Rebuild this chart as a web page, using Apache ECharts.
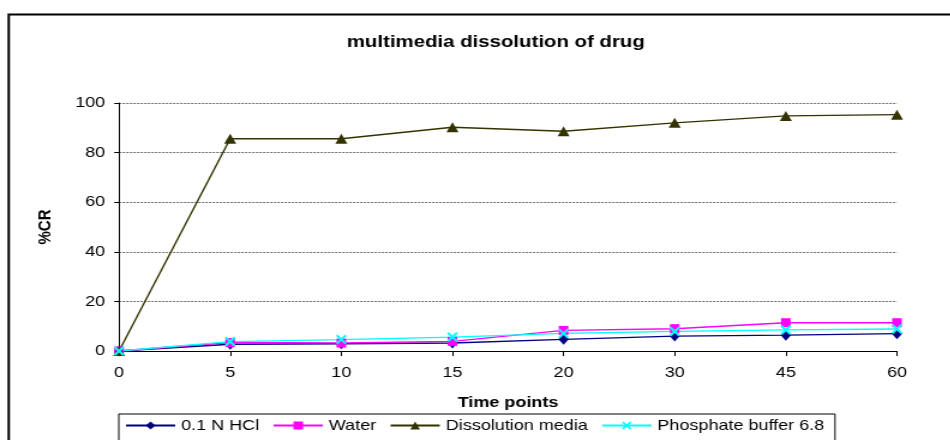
<!DOCTYPE html>
<html>
<head>
<meta charset="utf-8">
<script src="https://cdn.jsdelivr.net/npm/echarts@6/dist/echarts.min.js"></script>
<style>
html,body{margin:0;padding:0;background:#fff;overflow:hidden;}
#wrap{width:950px;height:440px;overflow:hidden;position:relative;}
#chart{width:792px;height:440px;transform:scaleX(1.2);transform-origin:0 0;}
</style>
</head>
<body>
<div id="wrap"><div id="chart"></div></div>
<script>
const categories = ['0', '5', '10', '15', '20', '30', '45', '60'];
const hcl = [0, 2.7, 2.9, 3.2, 4.7, 6.0, 6.4, 7.0];
const water = [0, 3.4, 3.2, 3.9, 8.3, 9.0, 11.4, 11.4];
const dissolution = [0, 85.6, 85.6, 90.2, 88.6, 92.0, 94.8, 95.3];
const phosphate = [0, 3.8, 4.6, 5.6, 7.1, 7.9, 8.5, 8.9];
const yTicks = [0, 20, 40, 60, 80, 100];

const FONT = 'Liberation Sans, Arial, sans-serif';
const xPath = 'path://M0,1.5L1.5,0L5,3.5L8.5,0L10,1.5L6.5,5L10,8.5L8.5,10L5,6.5L1.5,10L0,8.5L3.5,5Z';

const chart = echarts.init(document.getElementById('chart'), null, {renderer: 'canvas'});

function mk(name, data, color, symbol, size) {
  return {
    name: name, type: 'line', data: data,
    symbol: symbol, symbolSize: size, showSymbol: true,
    lineStyle: {color: color, width: 1.4},
    itemStyle: {color: color},
    animation: false, z: 3
  };
}

chart.setOption({
  backgroundColor: '#fff',
  animation: false,
  title: {
    text: 'multimedia dissolution of drug',
    left: 284, top: 29,
    textStyle: {fontFamily: FONT, fontSize: 17, fontWeight: 'bold', color: '#000'}
  },
  graphic: [
    {type: 'rect', shape: {x: 7.3, y: 14.5, width: 900, height: 460},
     style: {fill: 'none', stroke: '#000', lineWidth: 2}, z: 100}
  ],
  legend: {
    left: 99, top: 414,
    padding: [4, 9, 20, 5],
    borderColor: '#000', borderWidth: 1,
    itemGap: 11, itemWidth: 41, itemHeight: 10,
    textStyle: {fontFamily: FONT, fontSize: 15, color: '#000'},
    data: ['0.1 N HCl', 'Water', 'Dissolution media', 'Phosphate buffer 6.8']
  },
  grid: {left: 99.2, right: 44.5, top: 103, bottom: 89},
  xAxis: {
    type: 'category', data: categories, boundaryGap: false,
    name: 'Time points', nameLocation: 'middle', nameGap: 44,
    nameTextStyle: {fontFamily: FONT, fontSize: 15, fontWeight: 'bold', color: '#000'},
    axisLine: {lineStyle: {color: '#000', width: 1}},
    axisTick: {show: true, alignWithLabel: true, length: 5, lineStyle: {color: '#000'}},
    axisLabel: {fontFamily: FONT, fontSize: 15, color: '#000', margin: 14},
    splitLine: {show: false}
  },
  yAxis: {
    type: 'value', min: 0, max: 100, interval: 20,
    name: '%CR', nameLocation: 'middle', nameGap: 54, nameRotate: 90,
    nameTextStyle: {fontFamily: FONT, fontSize: 15, fontWeight: 'bold', color: '#000'},
    axisLine: {show: true, lineStyle: {color: '#000', width: 1}},
    axisTick: {show: true, inside: false, length: 4, lineStyle: {color: '#000'}},
    axisLabel: {fontFamily: FONT, fontSize: 15, color: '#000', margin: 11.5,
      formatter: function (v) { return yTicks.indexOf(v) >= 0 ? String(v) : ''; }},
    splitLine: {show: true, lineStyle: {color: '#707070', type: [2, 1], width: 1}}
  },
  series: [
    mk('0.1 N HCl', hcl, '#000080', 'diamond', [8.5, 11]),
    mk('Water', water, '#FF00FF', 'rect', [8, 9]),
    mk('Dissolution media', dissolution, '#333300', 'triangle', [10, 10]),
    mk('Phosphate buffer 6.8', phosphate, '#00FFFF', xPath, [9, 10])
  ]
});
</script>
</body>
</html>
